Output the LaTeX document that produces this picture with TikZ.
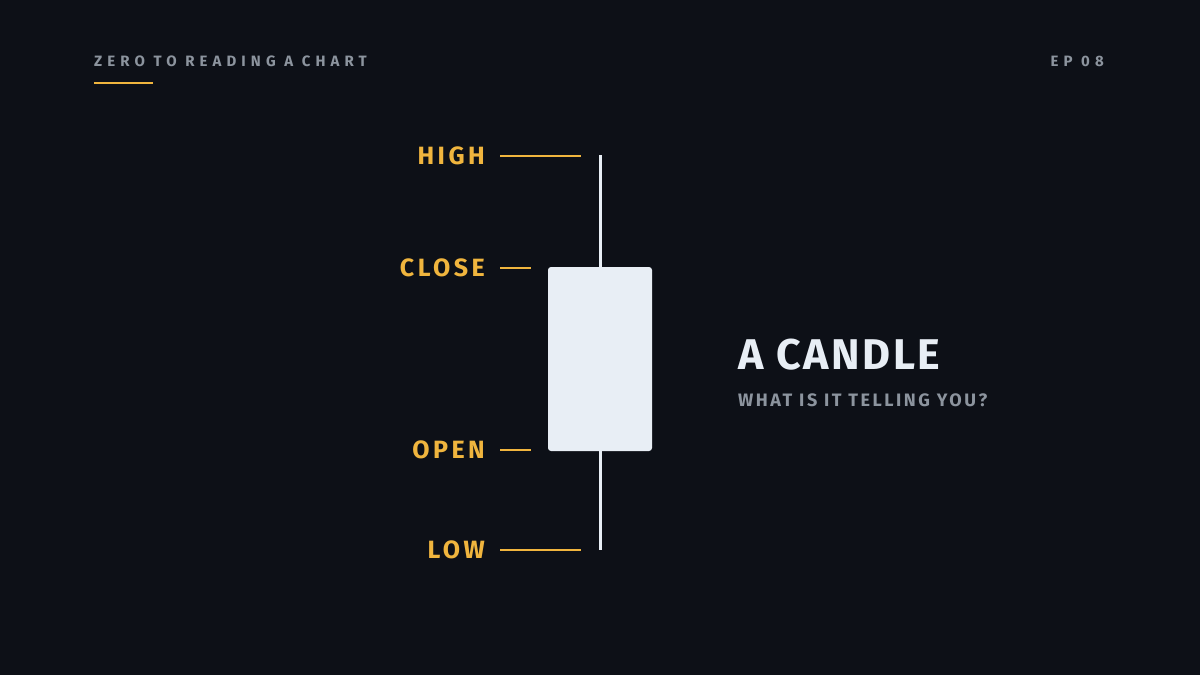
\documentclass[tikz,border=0pt]{standalone}
\usepackage{fontspec}
\setmainfont{Fira Sans}
\newfontfamily\spaced[LetterSpace=34]{Fira Sans}
\newfontfamily\wide[LetterSpace=14]{Fira Sans}
\newfontfamily\tight[LetterSpace=6]{Fira Sans}
\begin{document}
\begin{tikzpicture}[x=1pt,y=-1pt]
  % colors
  \definecolor{kBack}{HTML}{0D1017}
  \definecolor{kGold}{HTML}{F0B53E}
  \definecolor{kGrey}{HTML}{8C949E}
  \definecolor{kBody}{HTML}{E8EEF5}
  \tikzset{
    tag/.style={anchor=east,text=kGold,font=\wide\bfseries\fontsize{25}{25}\selectfont,inner sep=0},
    tick/.style={draw=kGold,line width=2pt}
  }
  \fill[kBack] (0,0) rectangle (1200,675);
  \useasboundingbox (0,0) rectangle (1200,675);
  % header
  \node[anchor=west,text=kGrey,font=\spaced\bfseries\fontsize{15}{15}\selectfont,inner sep=0] (series) at (94,61) {ZERO TO READING A CHART};
  \node[anchor=east,text=kGrey,font=\spaced\bfseries\fontsize{15}{15}\selectfont,inner sep=0] (ep) at (1104,61) {EP 08};
  \draw[tick] (94,83) -- (153,83);
  % candle
  \draw[kBody,line width=3pt] (600,155) -- (600,550);
  \fill[kBody,rounded corners=3pt] (548,267) rectangle (652,451);
  % labels
  \foreach \name/\y/\len in {HIGH/156/581,CLOSE/268/531,OPEN/450/531,LOW/550/581} {
    \node[tag] (\name) at (485,\y) {\name};
    \draw[tick] (500,\y) -- (\len,\y);
  };
  % title
  \node[anchor=west,text=kBody,font=\tight\bfseries\fontsize{43}{43}\selectfont,inner sep=0] (title) at (738,355) {A CANDLE};
  \node[anchor=west,text=kGrey,font=\wide\bfseries\fontsize{18}{18}\selectfont,inner sep=0] (sub) at (738,400) {WHAT IS IT TELLING YOU?};
\end{tikzpicture}
\end{document}
